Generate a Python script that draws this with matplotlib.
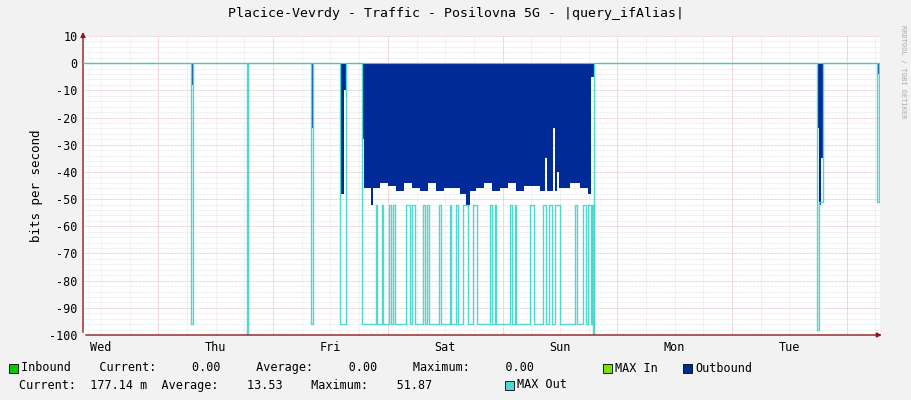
import matplotlib
matplotlib.use("Agg")
import matplotlib.pyplot as plt
import numpy as np
from matplotlib.patches import Rectangle

x_start, x_end = 0.343, 7.29
day_labels = ["Wed", "Thu", "Fri", "Sat", "Sun", "Mon", "Tue"]

def px(p):  # picture pixel -> days since Wed 00:00
    return (p - 43.6) / 114.7

# Outbound (blue area) step series
out_px = [83, 191, 193, 247, 248, 311, 313, 340, 341, 344, 346, 362, 364, 371, 373, 380, 388, 396, 404, 412,
          420, 428, 436, 444, 452, 460, 466, 470, 476, 484, 492, 500, 508, 516, 524, 532, 540,
          545, 547, 552, 553, 555, 557, 559, 562, 570, 580, 588, 591, 594,
          817, 819, 821, 823, 877, 879]
out_val = [0, -8, 0, -28, 0, -24, 0, 0, -48, -10, 0, -28, -46, -52, -46, -44, -45, -47, -44, -46,
           -47, -44, -47, -46, -46, -48, -52, -47, -46, -44, -47, -46, -44, -47, -45, -45, -47,
           -35, -47, -47, -24, -47, -40, -46, -46, -44, -46, -48, -5, 0,
           -24, -52, -35, 0, -4, 0]

# MAX Out (cyan line): spikes outside the busy block
max_px = [83, 191, 193, 247, 248, 311, 313, 340, 346, 362]
max_val = [0, -96, 0, -100, 0, -96, 0, -96, 0, -96]
# busy block: low level, high-level intervals (pixel start, end), end of block
busy_low, busy_high = -96, -52
busy_high_px = [(376.0, 377.3), (381.7, 383.3), (389.3, 390.7), (392.7, 394.7), (406, 410), (412, 415.3),
                (422.7, 424.7), (427.3, 429.3), (439.3, 440.7), (450, 451.3), (456, 458), (463.3, 468),
                (472.7, 476.7), (490, 492), (494.7, 496), (510, 512), (514.7, 516), (530, 534),
                (543.3, 546), (548.7, 552), (555.3, 560), (574.7, 577.3), (582.7, 586), (588, 590.7),
                (592, 593.3)]
tail_px = [593.3, 594, 817, 819, 823, 877, 879]
tail_val = [-100, 0, -98, -51, 0, -51, 0]

mp, mvl = list(max_px), list(max_val)
for a, b in busy_high_px:
    mp += [a, b]; mvl += [busy_high, busy_low]
mp += tail_px; mvl += tail_val

ox = np.array([px(p) for p in out_px] + [x_end]); ov = np.array(out_val + [0])
mx = np.array([px(p) for p in mp] + [x_end]); mv = np.array(mvl + [0])

fig = plt.figure(figsize=(9.11, 4.0), dpi=100, facecolor="#f2f2f2")
ax = fig.add_axes([83/911, 1-335/400, (880-83)/911, (335-36)/400])
ax.set_facecolor("white")
ax.set_xlim(x_start, x_end)
ax.set_ylim(-100, 10)

for y in np.arange(-100, 11, 2):
    ax.axhline(y, color="#dddddd", lw=0.5, ls=(0, (1, 1)), zorder=0)
for y in np.arange(-100, 11, 10):
    ax.axhline(y, color="#eebbbb", lw=0.5, ls=(0, (1, 1)), zorder=0)
for t in np.arange(0, 8, 0.25):
    ax.axvline(t, color="#dddddd", lw=0.5, ls=(0, (1, 1)), zorder=0)
for t in range(0, 8):
    ax.axvline(t, color="#eebbbb", lw=0.6, ls=(0, (1, 1)), zorder=0)

ax.fill_between(ox, ov, 0, step="post", color="#002a97", lw=0, zorder=2)
ax.step(mx, mv, where="post", color="#50d8d0", lw=1.0, zorder=3)
ax.axhline(0, color="#60c0a0", lw=0.8, zorder=4)

for s in ax.spines.values():
    s.set_visible(False)
ax.annotate("", xy=(x_end + 0.04, -100), xytext=(x_start, -100),
            arrowprops=dict(arrowstyle="-|>", color="#8b1a1a", lw=1, mutation_scale=7), annotation_clip=False)
ax.annotate("", xy=(x_start, 12.5), xytext=(x_start, -100),
            arrowprops=dict(arrowstyle="-|>", color="#8b1a1a", lw=1, mutation_scale=7), annotation_clip=False)

font = "DejaVu Sans Mono"
ax.set_yticks(np.arange(-100, 11, 10))
ax.set_yticklabels([str(v) for v in range(-100, 11, 10)], fontfamily=font, fontsize=8.5)
ax.set_xticks([i + 0.5 for i in range(7)])
ax.set_xticklabels(day_labels, fontfamily=font, fontsize=8.5)
ax.tick_params(length=0, pad=4)
ax.set_ylabel("bits per second", fontfamily=font, fontsize=9)

fig.text(0.5, 1-14/400, "Placice-Vevrdy - Traffic - Posilovna 5G - |query_ifAlias|",
         ha="center", va="center", fontfamily=font, fontsize=9.5)
fig.text(903/911, 0.82, "RRDTOOL / TOBI OETIKER", rotation=270, ha="center", va="center",
         fontsize=5, color="#aaaaaa", fontfamily=font)

def sq(xp, yp, c):
    fig.patches.append(Rectangle((xp/911, 1-(yp+5)/400), 9/911, 9/400, transform=fig.transFigure,
                                 facecolor=c, edgecolor="black", lw=0.6))

def t(xp, yp, s):
    fig.text(xp/911, 1-yp/400, s, fontfamily=font, fontsize=8.5, va="center")

sq(9, 368, "#00cc00"); t(21, 368, "Inbound    Current:     0.00     Average:     0.00     Maximum:     0.00")
sq(603, 368, "#7fe000"); t(615, 368, "MAX In")
sq(683, 368, "#002a97"); t(695, 368, "Outbound")
t(19, 385, "Current:  177.14 m  Average:    13.53    Maximum:    51.87")
sq(505, 385, "#50d8d0"); t(517, 385, "MAX Out")

fig.savefig("out.png", dpi=100, facecolor=fig.get_facecolor())
